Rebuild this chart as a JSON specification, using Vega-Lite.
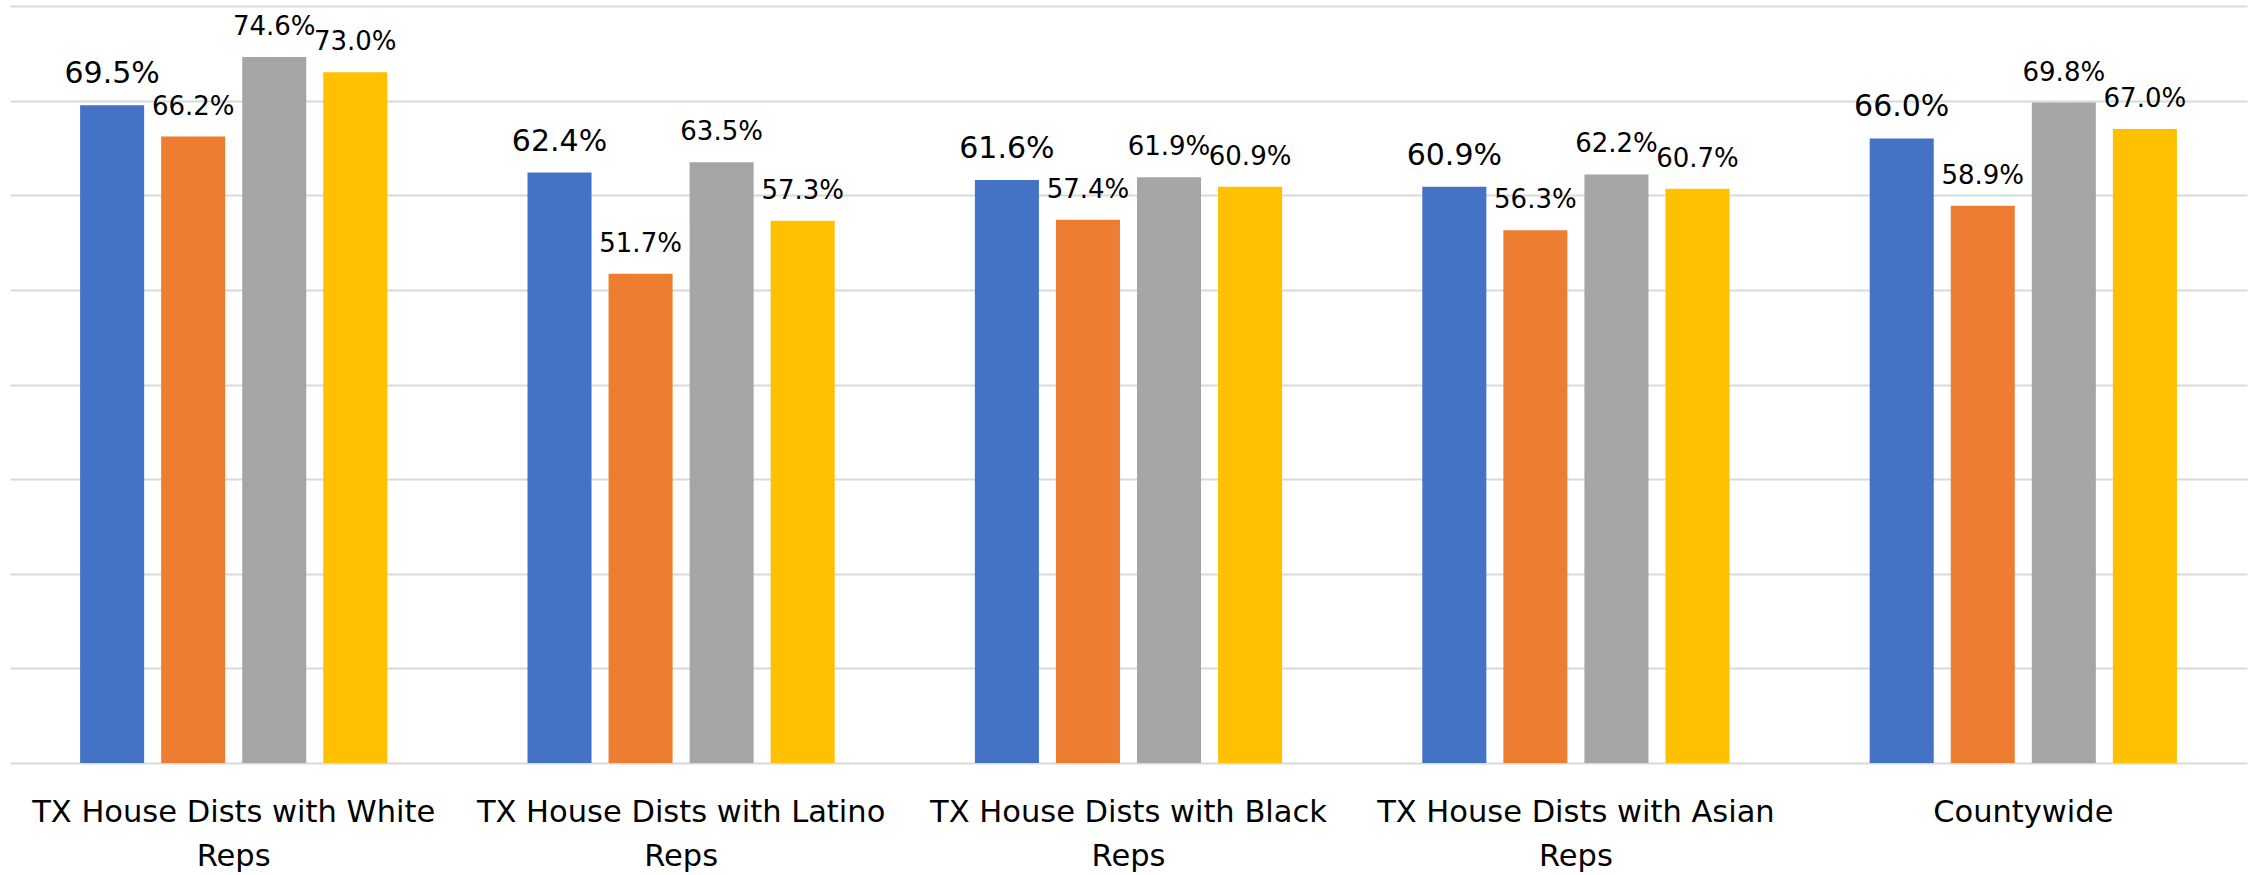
{
  "$schema": "https://vega.github.io/schema/vega-lite/v6.json",
  "autosize": "none",
  "width": 2237,
  "height": 757,
  "padding": {"left": 10, "top": 6, "right": 2, "bottom": 112},
  "background": "white",
  "data": {
    "values": [
      {"group": "TX House Dists with White Reps", "series": "S1", "share": 0.695},
      {"group": "TX House Dists with White Reps", "series": "S2", "share": 0.662},
      {"group": "TX House Dists with White Reps", "series": "S3", "share": 0.746},
      {"group": "TX House Dists with White Reps", "series": "S4", "share": 0.730},
      {"group": "TX House Dists with Latino Reps", "series": "S1", "share": 0.624},
      {"group": "TX House Dists with Latino Reps", "series": "S2", "share": 0.517},
      {"group": "TX House Dists with Latino Reps", "series": "S3", "share": 0.635},
      {"group": "TX House Dists with Latino Reps", "series": "S4", "share": 0.573},
      {"group": "TX House Dists with Black Reps", "series": "S1", "share": 0.616},
      {"group": "TX House Dists with Black Reps", "series": "S2", "share": 0.574},
      {"group": "TX House Dists with Black Reps", "series": "S3", "share": 0.619},
      {"group": "TX House Dists with Black Reps", "series": "S4", "share": 0.609},
      {"group": "TX House Dists with Asian Reps", "series": "S1", "share": 0.609},
      {"group": "TX House Dists with Asian Reps", "series": "S2", "share": 0.563},
      {"group": "TX House Dists with Asian Reps", "series": "S3", "share": 0.622},
      {"group": "TX House Dists with Asian Reps", "series": "S4", "share": 0.607},
      {"group": "Countywide", "series": "S1", "share": 0.660},
      {"group": "Countywide", "series": "S2", "share": 0.589},
      {"group": "Countywide", "series": "S3", "share": 0.698},
      {"group": "Countywide", "series": "S4", "share": 0.670}
    ]
  },
  "encoding": {
    "x": {
      "field": "group",
      "type": "nominal",
      "sort": null,
      "title": null,
      "scale": {"paddingInner": 0, "paddingOuter": 0},
      "axis": {
        "domain": false,
        "ticks": false,
        "labelAngle": 0,
        "labelFont": "DejaVu Sans",
        "labelFontSize": 30.5,
        "labelColor": "#000000",
        "labelPadding": 34,
        "labelLineHeight": 44,
        "labelLimit": 1000,
        "labelExpr": "datum.value == 'Countywide' ? 'Countywide' : [replace(datum.value, ' Reps', ''), 'Reps']"
      }
    },
    "xOffset": {
      "field": "series",
      "type": "nominal",
      "scale": {"paddingInner": 0.21, "paddingOuter": 0.865}
    },
    "y": {
      "field": "share",
      "type": "quantitative",
      "title": null,
      "scale": {"domain": [0, 0.8], "nice": false, "zero": true},
      "axis": {
        "values": [0, 0.1, 0.2, 0.3, 0.4, 0.5, 0.6, 0.7, 0.8],
        "labels": false,
        "ticks": false,
        "domain": false,
        "grid": true,
        "gridColor": "#d9d9d9",
        "gridWidth": 2
      }
    }
  },
  "layer": [
    {
      "mark": {"type": "bar"},
      "encoding": {
        "color": {
          "field": "series",
          "type": "nominal",
          "legend": null,
          "scale": {
            "domain": ["S1", "S2", "S3", "S4"],
            "range": ["#4472C4", "#ED7D31", "#A5A5A5", "#FFC000"]
          }
        }
      }
    },
    {
      "mark": {
        "type": "text",
        "baseline": "alphabetic",
        "align": "center",
        "dy": -22,
        "font": "DejaVu Sans",
        "color": "#000000"
      },
      "encoding": {
        "text": {"field": "share", "type": "quantitative", "format": ".1%"},
        "size": {
          "condition": {"test": "datum.series == 'S1'", "value": 30},
          "value": 26
        }
      }
    }
  ],
  "config": {"view": {"stroke": null}}
}
